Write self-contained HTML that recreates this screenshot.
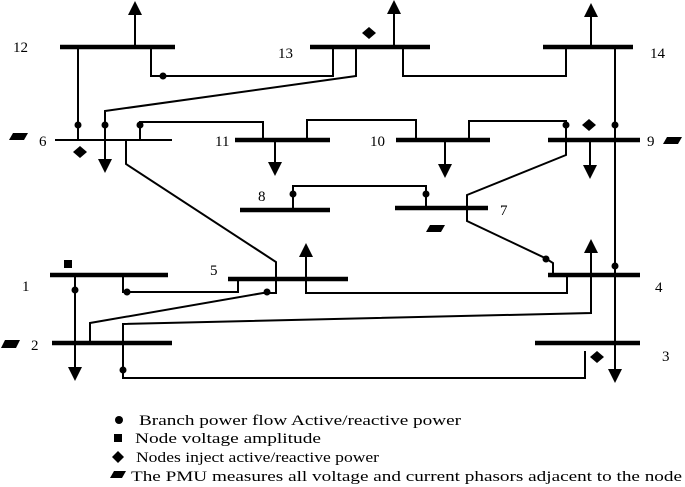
<!DOCTYPE html>
<html><head><meta charset="utf-8"><style>
html,body{margin:0;padding:0;background:#fff;}
svg{display:block;font-family:"Liberation Serif",serif;}
</style></head><body>
<svg width="685" height="487" viewBox="0 0 685 487" xmlns="http://www.w3.org/2000/svg">
<g stroke="#000" stroke-width="4.5" stroke-linecap="butt">
<line x1="60" y1="47" x2="175" y2="47"/>
<line x1="310" y1="47" x2="430" y2="47"/>
<line x1="543" y1="47" x2="633" y2="47"/>
<line x1="55" y1="140" x2="172" y2="140" stroke-width="2"/>
<line x1="235" y1="140" x2="330" y2="140"/>
<line x1="396" y1="140" x2="490" y2="140"/>
<line x1="548" y1="140" x2="640" y2="140"/>
<line x1="240" y1="210" x2="330" y2="210"/>
<line x1="395" y1="208" x2="488" y2="208"/>
<line x1="50" y1="275" x2="168" y2="275"/>
<line x1="228" y1="279" x2="348" y2="279"/>
<line x1="548" y1="275" x2="640" y2="275"/>
<line x1="52" y1="343" x2="172" y2="343"/>
<line x1="535" y1="343" x2="640" y2="343"/>
</g>
<g stroke="#000" stroke-width="2" fill="none">
<!-- arrow shafts -->
<line x1="135" y1="47" x2="135" y2="14"/>
<line x1="394" y1="47" x2="394" y2="13"/>
<line x1="591" y1="47" x2="591" y2="16"/>
<line x1="105" y1="140" x2="105" y2="160"/>
<line x1="275" y1="140" x2="275" y2="163"/>
<line x1="445" y1="140" x2="445" y2="165"/>
<line x1="590" y1="140" x2="590" y2="166"/>
<line x1="306" y1="279" x2="306" y2="256"/>
<line x1="75" y1="343" x2="75" y2="368"/>
<line x1="615" y1="343" x2="615" y2="370"/>
<!-- branches -->
<polyline points="78,47 78,140"/>
<polyline points="151,47 151,76 333,76 333,47"/>
<polyline points="356,47 356,76 105,111 105,140"/>
<polyline points="403,47 403,76 566,76 566,47"/>
<polyline points="615,47 615,343"/>
<polyline points="140,140 140,122 263,122 263,140"/>
<polyline points="307,140 307,120 416,120 416,140"/>
<polyline points="469,140 469,121 566,121 566,155 467,195 467,221 545,258 553,263 553,275"/>
<polyline points="126,140 126,164 276,262 276,293 263,293 90,323 90,343"/>
<polyline points="293,210 293,186 426,186 426,208"/>
<polyline points="75,275 75,343"/>
<polyline points="123,275 123,292 238,292 238,279"/>
<polyline points="306,279 306,293 567,293 567,275"/>
<polyline points="591,252 591,313 123,324 123,343"/>
<polyline points="123,343 123,378 585,378 585,351"/>
</g>
<g fill="#000">
<!-- arrowheads up -->
<polygon points="128,15 142,15 135,1"/>
<polygon points="387,14 401,14 394,0"/>
<polygon points="584,17 598,17 591,3"/>
<polygon points="299,257 313,257 306,243"/>
<polygon points="584,253 598,253 591,239"/>
<!-- arrowheads down -->
<polygon points="98,159 112,159 105,173"/>
<polygon points="268,162 282,162 275,176"/>
<polygon points="438,164 452,164 445,178"/>
<polygon points="583,165 597,165 590,179"/>
<polygon points="68,367 82,367 75,381"/>
<polygon points="608,369 622,369 615,383"/>
<circle cx="163" cy="76" r="3.5"/>
<circle cx="78" cy="125" r="3.5"/>
<circle cx="105" cy="125" r="3.5"/>
<circle cx="140" cy="125" r="3.5"/>
<circle cx="566" cy="125" r="3.5"/>
<circle cx="615" cy="125" r="3.5"/>
<circle cx="293" cy="194" r="3.5"/>
<circle cx="426" cy="194" r="3.5"/>
<circle cx="546" cy="259" r="3.5"/>
<circle cx="615" cy="266" r="3.5"/>
<circle cx="75" cy="290" r="3.5"/>
<circle cx="127" cy="292" r="3.5"/>
<circle cx="267" cy="292" r="3.5"/>
<circle cx="123" cy="370" r="3.5"/>
<rect x="64" y="260" width="8" height="8"/>
<polygon points="369,27 376,33 369,39 362,33"/>
<polygon points="80,146 87,152 80,158 73,152"/>
<polygon points="589,119 596,125 589,131 582,125"/>
<polygon points="597,351 604,357 597,363 590,357"/>
<polygon points="13,133 28,133 24,140 9,140"/>
<polygon points="667,137 682,137 678,144 663,144"/>
<polygon points="430,225 445,225 441,232 426,232"/>
<polygon points="5,340 20,340 16,348 1,348"/>
</g>
<g font-size="15" fill="#000">
<text x="13" y="52">12</text>
<text x="278" y="58">13</text>
<text x="650" y="58">14</text>
<text x="39" y="146">6</text>
<text x="215" y="146">11</text>
<text x="370" y="146">10</text>
<text x="647" y="146">9</text>
<text x="258" y="201">8</text>
<text x="500" y="215">7</text>
<text x="22" y="291">1</text>
<text x="210" y="275">5</text>
<text x="655" y="292">4</text>
<text x="31" y="350">2</text>
<text x="662" y="361">3</text>
</g>
<g fill="#000">
<circle cx="119" cy="420" r="4"/>
<rect x="114" y="434" width="8" height="8"/>
<polygon points="118,451 124,457 118,463 112,457"/>
<polygon points="114,471 126,471 122,478 110,478"/>
</g>
<g font-size="14.5" fill="#000">
<text x="139" y="425" textLength="322" lengthAdjust="spacingAndGlyphs">Branch power flow Active/reactive power</text>
<text x="135" y="443" textLength="186" lengthAdjust="spacingAndGlyphs">Node voltage amplitude</text>
<text x="136" y="462" textLength="243" lengthAdjust="spacingAndGlyphs">Nodes inject active/reactive power</text>
<text x="131" y="481" textLength="551" lengthAdjust="spacingAndGlyphs">The PMU measures all voltage and current phasors adjacent to the node</text>
</g>
</svg>
</body></html>
